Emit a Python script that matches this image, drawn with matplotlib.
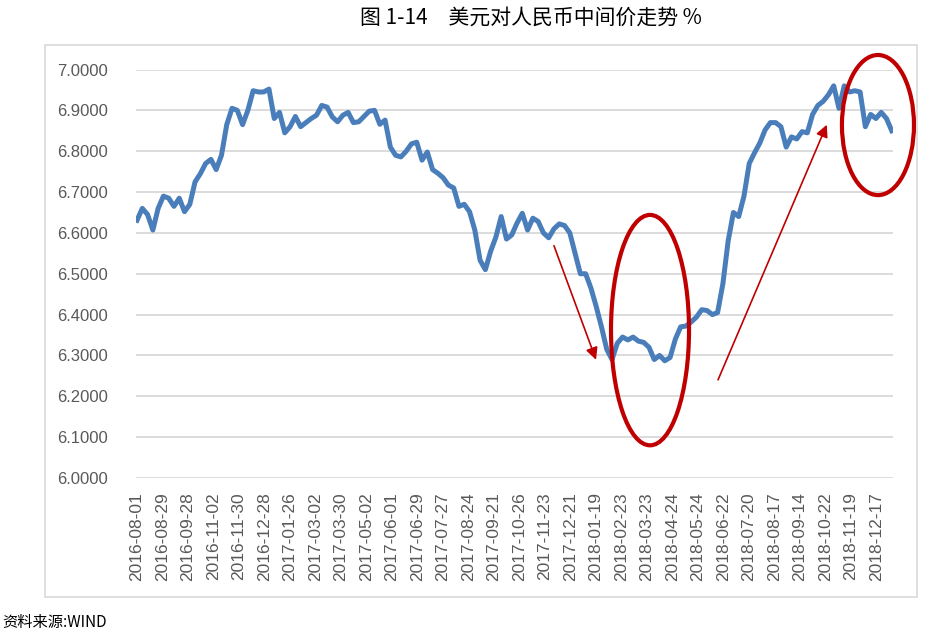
import matplotlib
matplotlib.use('Agg')
import matplotlib.pyplot as plt
from matplotlib.patches import Ellipse, Rectangle
import numpy as np

## fonts
plt.rcParams['font.family'] = ['Liberation Sans', 'Noto Sans CJK SC', 'DejaVu Sans']

## tick labels, one every 20 trading days
tick_labels = ['2016-08-01', '2016-08-29', '2016-09-28', '2016-11-02', '2016-11-30',
               '2016-12-28', '2017-01-26', '2017-03-02', '2017-03-30', '2017-05-02',
               '2017-06-01', '2017-06-29', '2017-07-27', '2017-08-24', '2017-09-21',
               '2017-10-26', '2017-11-23', '2017-12-21', '2018-01-19', '2018-02-23',
               '2018-03-23', '2018-04-24', '2018-05-24', '2018-06-22', '2018-07-20',
               '2018-08-17', '2018-09-14', '2018-10-22', '2018-11-19', '2018-12-17']
days_per_tick = 20
sample_step = 4.14   # trading days between readings

## USD/CNY central parity readings
rate = [6.631, 6.660, 6.645, 6.607, 6.660, 6.690, 6.685, 6.665, 6.685, 6.652,
        6.670, 6.725, 6.745, 6.770, 6.780, 6.755, 6.790, 6.865, 6.905, 6.900,
        6.865, 6.900, 6.948, 6.945, 6.945, 6.952, 6.880, 6.895, 6.845, 6.860,
        6.885, 6.860, 6.870, 6.880, 6.888, 6.912, 6.908, 6.884, 6.872, 6.888,
        6.895, 6.870, 6.872, 6.885, 6.898, 6.900, 6.866, 6.876, 6.810, 6.790,
        6.786, 6.800, 6.818, 6.822, 6.778, 6.798, 6.755, 6.746, 6.735, 6.717,
        6.710, 6.665, 6.670, 6.652, 6.607, 6.533, 6.510, 6.555, 6.590, 6.640,
        6.585, 6.595, 6.624, 6.648, 6.607, 6.636, 6.628, 6.600, 6.588, 6.610,
        6.622, 6.618, 6.600, 6.550, 6.500, 6.500, 6.465, 6.420, 6.370, 6.315,
        6.290, 6.330, 6.345, 6.338, 6.345, 6.335, 6.332, 6.320, 6.290, 6.300,
        6.287, 6.295, 6.340, 6.370, 6.372, 6.382, 6.394, 6.412, 6.410, 6.400,
        6.405, 6.475, 6.580, 6.650, 6.640, 6.690, 6.770, 6.796, 6.820, 6.852,
        6.870, 6.870, 6.860, 6.810, 6.835, 6.830, 6.848, 6.845, 6.890, 6.912,
        6.922, 6.938, 6.960, 6.905, 6.960, 6.945, 6.948, 6.945, 6.860, 6.890,
        6.880, 6.895, 6.880, 6.850]

## annotations (data units: trading day, rate)
ellipses = [(402.4, 6.362, 61.2, 0.564), (581.2, 6.864, 56.5, 0.343)]
arrows = [((326.3, 6.575), (360.8, 6.283)), ((454.9, 6.234), (541.9, 6.871))]

blue = '#4A7EBB'
red = '#C00000'
grey = '#595959'

fig = plt.figure(figsize=(9.53, 6.34), dpi=100)
ax = fig.add_axes([136/953, 156/634, (893-136)/953, (478-69.5)/634])

x = np.arange(len(rate)) * sample_step
ax.plot(x, rate, color=blue, lw=3.6, solid_joinstyle='round', zorder=3)

ax.set_ylim(6.0, 7.0)
ax.set_yticks(np.arange(6.0, 7.01, 0.1))
ax.set_yticklabels(['%.4f' % v for v in np.arange(6.0, 7.01, 0.1)], fontsize=12, color=grey)
ax.set_xlim(-0.8, 593)
ax.set_xticks(np.arange(len(tick_labels)) * days_per_tick)
ax.set_xticklabels(tick_labels, rotation=90, fontsize=12.5, color=grey)
ax.tick_params(length=0, pad=10)
ax.tick_params(axis='y', pad=20)
ax.grid(axis='y', color='#D9D9D9', lw=1.3)
ax.set_axisbelow(True)
for s in ax.spines.values():
    s.set_visible(False)

for cx, cy, w, h in ellipses:
    ax.add_patch(Ellipse((cx, cy), w, h, fill=False, ec=red, lw=3, clip_on=False, zorder=4))
for (x0, y0), (x1, y1) in arrows:
    ax.annotate('', xy=(x1, y1), xytext=(x0, y0),
                arrowprops=dict(arrowstyle='-|>', color=red, lw=1.2, mutation_scale=18),
                annotation_clip=False, zorder=4)

## chart border
fig.patches.append(Rectangle((45/953, 37/634), 872/953, 552/634, transform=fig.transFigure,
                             fill=False, ec='#D9D9D9', lw=1.2))

fig.text(531/953, 1 - 18/634, '图 1-14　美元对人民币中间价走势 %', ha='center', va='center',
         fontsize=15, family=['Noto Sans CJK SC', 'DejaVu Sans'], color='black')
fig.text(2/953, 1 - 622/634, '资料来源:WIND', ha='left', va='center',
         fontsize=11, family=['Noto Sans CJK SC', 'DejaVu Sans'], color='black')

fig.savefig('out.png', dpi=100)
